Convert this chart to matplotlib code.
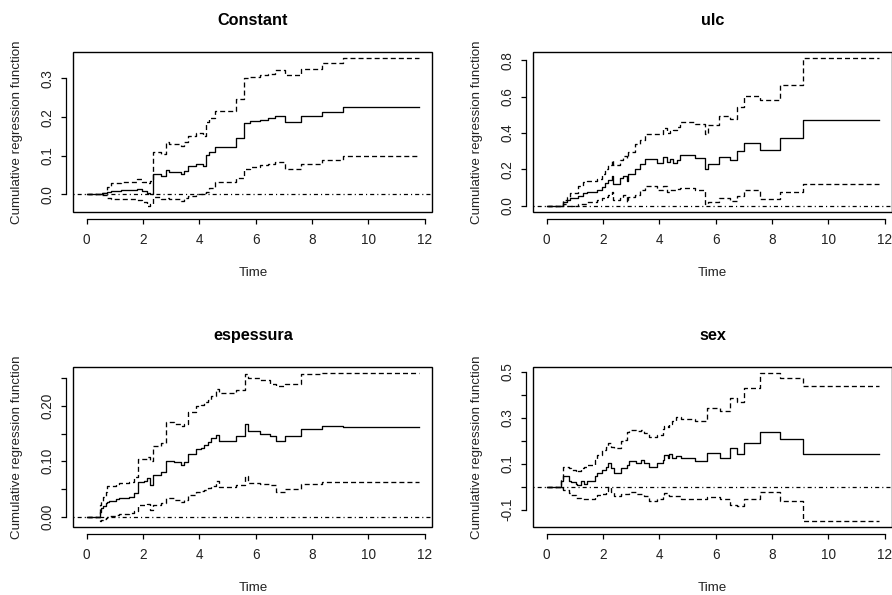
import matplotlib
matplotlib.use("Agg")
import matplotlib.pyplot as plt
from matplotlib.patches import Rectangle

plt.rcParams['font.family'] = ['Liberation Sans', 'DejaVu Sans']
plt.rcParams['lines.scale_dashes'] = False

# Constant
const_time = [0, 0.56, 0.74, 0.86, 1.21, 1.8, 1.98, 2.16, 2.26, 2.36,
              2.64, 2.81, 2.93, 3.35, 3.47, 3.59, 3.88, 4.12, 4.24, 4.36,
              4.54, 5.31, 5.6, 5.8, 6.14, 6.44, 6.67, 7.03, 7.6, 8.34,
              9.11, 11.8]
const_est = [0, 0.003, 0.007, 0.010, 0.011, 0.014, 0.009, 0.004, 0.000, 0.052,
             0.048, 0.063, 0.057, 0.052, 0.061, 0.073, 0.080, 0.073, 0.102, 0.111,
             0.124, 0.147, 0.184, 0.190, 0.193, 0.197, 0.203, 0.188, 0.203, 0.213,
             0.227, 0.227]
const_upper = [0, 0.004, 0.020, 0.029, 0.033, 0.040, 0.033, 0.029, 0.036, 0.111,
               0.105, 0.135, 0.131, 0.125, 0.135, 0.150, 0.158, 0.150, 0.188, 0.197,
               0.216, 0.246, 0.301, 0.305, 0.309, 0.312, 0.322, 0.309, 0.324, 0.341,
               0.354, 0.354]
const_lower = [0, -0.002, -0.010, -0.011, -0.012, -0.015, -0.019, -0.030, -0.025, -0.006,
               -0.012, -0.008, -0.013, -0.017, -0.010, -0.004, 0.000, 0.003, 0.007, 0.016,
               0.031, 0.043, 0.067, 0.072, 0.075, 0.078, 0.083, 0.066, 0.078, 0.089,
               0.100, 0.100]
const_yticks = [0.0, 0.1, 0.2, 0.3]
const_ylabels = ['0.0', '0.1', '0.2', '0.3']

# ulc
ulc_time = [0, 0.59, 0.71, 0.83, 1.12, 1.30, 1.42, 1.78, 1.95, 2.07,
            2.19, 2.31, 2.37, 2.60, 2.72, 2.84, 2.90, 3.14, 3.31, 3.49,
            3.91, 4.14, 4.26, 4.38, 4.50, 4.62, 4.73, 5.27, 5.62, 5.74,
            6.13, 6.51, 6.75, 7.02, 7.57, 8.28, 9.11, 11.78]
ulc_est = [0, 0.020, 0.033, 0.040, 0.055, 0.068, 0.074, 0.088, 0.103, 0.125,
           0.143, 0.162, 0.121, 0.153, 0.164, 0.134, 0.176, 0.204, 0.232, 0.256,
           0.237, 0.268, 0.241, 0.256, 0.237, 0.254, 0.278, 0.265, 0.204, 0.232,
           0.268, 0.254, 0.301, 0.347, 0.305, 0.373, 0.471, 0.471]
ulc_upper = [0, 0.029, 0.048, 0.070, 0.107, 0.130, 0.135, 0.149, 0.176, 0.200,
             0.225, 0.250, 0.222, 0.250, 0.272, 0.262, 0.296, 0.342, 0.364, 0.397,
             0.392, 0.425, 0.400, 0.410, 0.415, 0.434, 0.458, 0.447, 0.397, 0.443,
             0.493, 0.480, 0.544, 0.605, 0.581, 0.664, 0.814, 0.814]
ulc_lower = [0, 0.011, -0.004, -0.004, 0.007, 0.010, 0.020, 0.029, 0.044, 0.050,
             0.060, 0.075, 0.029, 0.044, 0.057, 0.020, 0.048, 0.057, 0.085, 0.108,
             0.085, 0.110, 0.075, 0.085, 0.088, 0.090, 0.097, 0.085, 0.007, 0.020,
             0.042, 0.024, 0.051, 0.085, 0.035, 0.075, 0.118, 0.118]
ulc_yticks = [0.0, 0.2, 0.4, 0.6, 0.8]
ulc_ylabels = ['0.0', '0.2', '0.4', '0.6', '0.8']

# espessura
esp_time = [0, 0.46, 0.52, 0.59, 0.68, 0.74, 0.80, 1.03, 1.15, 1.51,
            1.69, 1.81, 2.04, 2.16, 2.24, 2.34, 2.64, 2.81, 3.11, 3.35,
            3.44, 3.59, 3.88, 4.06, 4.18, 4.30, 4.42, 4.60, 4.71, 5.31,
            5.61, 5.72, 6.14, 6.50, 6.73, 7.03, 7.60, 8.34, 9.11, 11.8]
esp_est = [0, 0.009, 0.015, 0.019, 0.024, 0.026, 0.029, 0.031, 0.034, 0.036,
           0.042, 0.063, 0.064, 0.069, 0.057, 0.075, 0.080, 0.101, 0.098, 0.093,
           0.099, 0.113, 0.122, 0.123, 0.130, 0.134, 0.142, 0.148, 0.137, 0.145,
           0.167, 0.154, 0.149, 0.145, 0.137, 0.145, 0.158, 0.163, 0.161, 0.161]
esp_upper = [0, 0.021, 0.028, 0.036, 0.045, 0.055, 0.056, 0.059, 0.061, 0.063,
             0.072, 0.104, 0.104, 0.108, 0.100, 0.127, 0.133, 0.170, 0.167, 0.163,
             0.168, 0.189, 0.199, 0.201, 0.206, 0.210, 0.217, 0.230, 0.223, 0.229,
             0.257, 0.250, 0.246, 0.240, 0.235, 0.240, 0.257, 0.260, 0.260, 0.260]
esp_lower = [0, -0.008, -0.006, -0.005, -0.002, 0.000, 0.001, 0.003, 0.004, 0.006,
             0.010, 0.021, 0.021, 0.022, 0.012, 0.021, 0.024, 0.033, 0.030, 0.027,
             0.030, 0.039, 0.044, 0.046, 0.048, 0.051, 0.055, 0.064, 0.053, 0.057,
             0.073, 0.060, 0.058, 0.057, 0.045, 0.049, 0.058, 0.063, 0.063, 0.063]
esp_yticks = [0.00, 0.05, 0.10, 0.15, 0.20, 0.25]
esp_ylabels = ['0.00', '', '0.10', '', '0.20', '']

# sex
sex_time = [0, 0.50, 0.58, 0.79, 0.85, 1.03, 1.09, 1.21, 1.33, 1.44,
            1.72, 1.80, 1.98, 2.10, 2.18, 2.27, 2.39, 2.63, 2.75, 2.87,
            2.92, 3.16, 3.34, 3.46, 3.63, 3.93, 4.12, 4.17, 4.29, 4.34,
            4.46, 4.58, 4.76, 5.27, 5.68, 6.15, 6.51, 6.75, 7.02, 7.57,
            8.28, 9.11, 11.78]
sex_est = [0, 0.024, 0.045, 0.024, 0.020, 0.014, 0.010, 0.024, 0.014, 0.024,
           0.045, 0.059, 0.074, 0.088, 0.102, 0.081, 0.062, 0.081, 0.081, 0.095,
           0.114, 0.102, 0.118, 0.102, 0.088, 0.102, 0.117, 0.138, 0.124, 0.143,
           0.124, 0.134, 0.124, 0.113, 0.146, 0.127, 0.168, 0.143, 0.189, 0.240,
           0.208, 0.143, 0.143]
sex_upper = [0, 0.030, 0.088, 0.080, 0.074, 0.066, 0.070, 0.081, 0.085, 0.095,
             0.117, 0.138, 0.160, 0.175, 0.192, 0.174, 0.167, 0.200, 0.203, 0.239,
             0.245, 0.242, 0.246, 0.235, 0.217, 0.225, 0.253, 0.265, 0.262, 0.275,
             0.285, 0.304, 0.297, 0.285, 0.345, 0.330, 0.387, 0.369, 0.428, 0.497,
             0.474, 0.437, 0.437]
sex_lower = [0, -0.006, -0.013, -0.027, -0.035, -0.048, -0.050, -0.055, -0.055, -0.052,
             -0.040, -0.035, -0.033, -0.019, 0.000, -0.023, -0.040, -0.033, -0.033, -0.030,
             -0.023, -0.033, -0.030, -0.040, -0.062, -0.052, -0.040, -0.027, -0.035, -0.039,
             -0.040, -0.040, -0.051, -0.055, -0.045, -0.055, -0.077, -0.084, -0.051, -0.024,
             -0.060, -0.149, -0.149]
sex_yticks = [-0.1, 0.0, 0.1, 0.2, 0.3, 0.4, 0.5]
sex_ylabels = ['-0.1', '', '0.1', '', '0.3', '', '0.5']

xticks = [0, 2, 4, 6, 8, 10, 12]

panels = [
    ("Constant", const_time, const_est, const_lower, const_upper, const_yticks, const_ylabels),
    ("ulc", ulc_time, ulc_est, ulc_lower, ulc_upper, ulc_yticks, ulc_ylabels),
    ("espessura", esp_time, esp_est, esp_lower, esp_upper, esp_yticks, esp_ylabels),
    ("sex", sex_time, sex_est, sex_lower, sex_upper, sex_yticks, sex_ylabels),
]

# axes boxes in figure fractions (left, bottom, width, height)
positions = [
    [0.0822, 0.6437, 0.4025, 0.2695],
    [0.5979, 0.6432, 0.4020, 0.2695],
    [0.0822, 0.1143, 0.4025, 0.2695],
    [0.5979, 0.1143, 0.4020, 0.2695],
]

fig = plt.figure(figsize=(8.92, 5.95), dpi=100)

for (title, t, est, lo, up, yt, ylab), pos in zip(panels, positions):
    ax = fig.add_axes(pos)
    ax.step(t, est, where='post', color='black', lw=0.95)
    ax.step(t, lo, where='post', color='black', lw=0.95, dashes=(3.6, 2.2))
    ax.step(t, up, where='post', color='black', lw=0.95, dashes=(3.6, 2.2))
    ax.axhline(0, color='black', lw=0.9, dashes=(0.8, 2.2, 2.9, 2.2))
    ax.margins(0.04)

    # R style: box around plot region, axes drawn slightly outside
    for side in ['top', 'right']:
        ax.spines[side].set_visible(False)
    for side in ['left', 'bottom']:
        ax.spines[side].set_position(('outward', 5))
        ax.spines[side].set_linewidth(0.9)
    ax.add_patch(Rectangle((0, 0), 1, 1, transform=ax.transAxes, fill=False,
                           lw=1.0, edgecolor='black', clip_on=False))

    ax.set_xticks(xticks)
    ax.set_xticklabels([str(x) for x in xticks])
    ax.set_yticks(yt)
    ax.set_yticklabels(ylab, rotation=90, va='center')
    ax.spines['bottom'].set_bounds(xticks[0], xticks[-1])
    ax.spines['left'].set_bounds(yt[0], yt[-1])
    ax.tick_params(direction='out', length=3.5, width=0.9, labelsize=9.8,
                   labelcolor='#222222')
    ax.tick_params(axis='x', pad=6.5)
    ax.tick_params(axis='y', pad=5)

    ax.set_title(title, fontsize=11.7, fontweight='bold', pad=19.5)
    ax.set_xlabel('Time', fontsize=9.6, va='top', color='#222222')
    ax.xaxis.set_label_coords(0.5, -0.342)
    ax.set_ylabel('Cumulative regression function', fontsize=9.6, color='#222222')
    ax.yaxis.set_label_coords(-0.139, 0.5)

fig.savefig('out.png', dpi=100)
